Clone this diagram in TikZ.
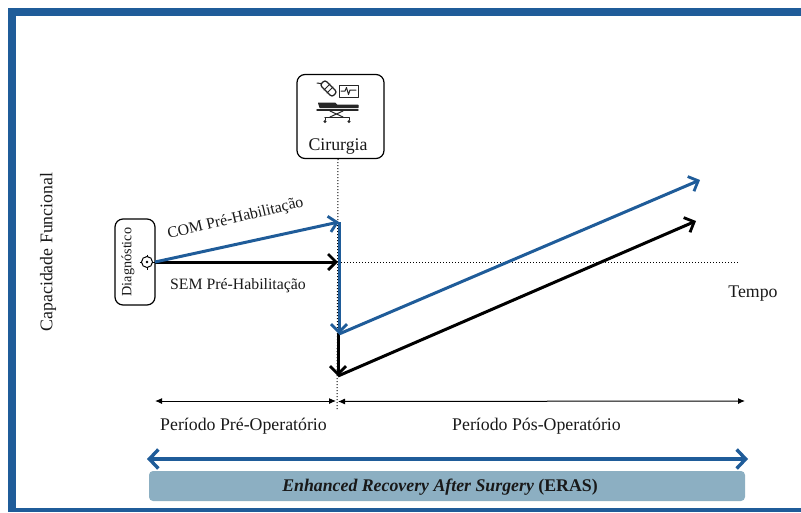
\documentclass[tikz,border=0pt]{standalone}
\usepackage{fontspec}
\setmainfont{Liberation Serif}
\usetikzlibrary{arrows.meta,calc}
\definecolor{eblue}{HTML}{1F5C99}
\definecolor{ebar}{HTML}{8CAFC2}
\tikzset{
  lbl/.style={inner sep=0pt,font=\fontsize{17.8}{20}\selectfont,text=black!90},
  lblsmall/.style={inner sep=0pt,font=\fontsize{15.8}{18}\selectfont,text=black!90},
  roundbox/.style={draw=black,line width=1.2pt,fill=white,rounded corners=8pt,inner sep=0pt},
  bluearrow/.style={draw=eblue,line width=3pt,-{Straight Barb[length=8pt,width=16pt,line width=2.8pt]}},
  blackarrow/.style={draw=black,line width=3pt,-{Straight Barb[length=8pt,width=16pt,line width=2.8pt]}},
  dots/.style={draw=black,line width=1pt,dash pattern=on 1pt off 2pt},
  span/.style={draw=black,line width=1pt,{Latex[length=7pt,width=6pt]}-{Latex[length=7pt,width=6pt]}},
  icon/.style={draw=black!85,line width=1pt,line cap=round,line join=round},
}
\begin{document}
\begin{tikzpicture}[x=1pt,y=-1pt]
\useasboundingbox (0,0) rectangle (801,512);
% frame
\fill[eblue] (8,8) rectangle (801,16);
\fill[eblue] (8,8) rectangle (16,512);
\fill[eblue] (8,508) rectangle (801,512);
% coordinates
\coordinate (dstart) at (155,262);
\coordinate (comtop) at (339,222);
\coordinate (semtop) at (338,262);
\coordinate (comlow) at (339,334);
\coordinate (semlow) at (338,376);
\coordinate (comend) at (700,180);
\coordinate (semend) at (696,221);
\coordinate (axisend) at (738,262);
\coordinate (dotbot) at (337,410);
\coordinate (preL) at (155,401);
\coordinate (preR) at (336,401);
\coordinate (posL) at (338,401.5);
\coordinate (posR) at (745,401);
\coordinate (erasL) at (147,459);
\coordinate (erasR) at (748,459);
% surgery box
\node[roundbox,minimum width=87pt,minimum height=84pt] (cir) at (340.5,116.5) {};
\node[lbl] (cirtxt) at (338,147) {Cirurgia};
% dotted lines
\draw[dots] (cir.south -| semtop) -- (dotbot);
\draw[dots] (semtop) -- (axisend);
% icon
\begin{scope}[icon]
\draw (317,83) -- (324,84);
\draw[rotate around={-45:(328.5,88.5)},fill=white,line width=1.3pt,rounded corners=2.5pt] (320,85) rectangle (337,92);
\draw (324,90) -- (330,84) (327,93) -- (333,87);
% monitor
\draw (339,85) rectangle (358,97);
\draw (341,91) -- (345,91) -- (346.5,87.5) -- (348.5,94.5) -- (350,90) -- (356,90);
% bed
\draw[fill=black!85] (318.5,103) -- (335,103) -- (337,105) -- (358,105) -- (358,107.5) -- (320,107.5) -- cycle;
\draw[line width=1.4pt] (317,110) -- (358,110);
\draw (330,111) -- (343,117) (343,111) -- (330,117);
\draw[line width=1.2pt] (325,117.5) -- (349,117.5);
\draw (325,117.5) -- (325,120) (349,117.5) -- (349,120);
\fill[black!85] (325,121.5) circle (1.7) (349,121.5) circle (1.7);
\end{scope}
% diagnosis box
\node[roundbox,minimum width=40pt,minimum height=86pt] (diag) at (135,262) {};
\node[inner sep=0pt,rotate=90,font=\fontsize{14.2}{16}\selectfont,text=black!90] (diagtxt) at (128,262) {Diagnóstico};
\node[draw=black,line width=1pt,circle,minimum size=11pt,inner sep=0pt] (target) at (147,262) {};
\fill[black] (target.center) circle (1.4);
\draw[black,line width=1pt] (147,254.5) -- (147,257) (147,267) -- (147,269.5) (139.5,262) -- (142,262) (152,262) -- (154.5,262);
% arrows
\draw[blackarrow] (dstart) -- (semtop);
\draw[bluearrow] (dstart) -- (comtop);
\draw[blackarrow] ($(comlow)+(-1,-1)$) -- (semlow);
\draw[blackarrow] (semlow) -- (semend);
\draw[bluearrow] (comtop) -- (comlow);
\draw[bluearrow] (comlow) -- (comend);
% labels
\node[lblsmall,rotate=13.5] (comlbl) at (235.5,219) {COM Pré-Habilitação};
\node[lblsmall] (semlbl) at (238,286) {SEM Pré-Habilitação};
\node[lbl,rotate=90] (cap) at (48,252) {Capacidade Funcional};
\node[lbl] (tempo) at (753,294) {Tempo};
% spans
\draw[span] (preL) -- (preR);
\draw[span] (posL) -- (posR);
\node[lbl] (pre) at (243.5,426) {Período Pré-Operatório};
\node[lbl] (pos) at (536.5,426) {Período Pós-Operatório};
% ERAS
\draw[draw=eblue,line width=3.8pt,{Straight Barb[length=9pt,width=19pt,line width=3.4pt]}-{Straight Barb[length=9pt,width=19pt,line width=3.4pt]}] (erasL) -- (erasR);
\node[fill=ebar,rounded corners=4pt,minimum width=596pt,minimum height=30pt,inner sep=0pt] (bar) at (447,486) {};
\node[lbl,font=\fontsize{17.8}{20}\selectfont\bfseries] (erastxt) at (440,487) {\textit{Enhanced Recovery After Surgery} (ERAS)};
\end{tikzpicture}
\end{document}
